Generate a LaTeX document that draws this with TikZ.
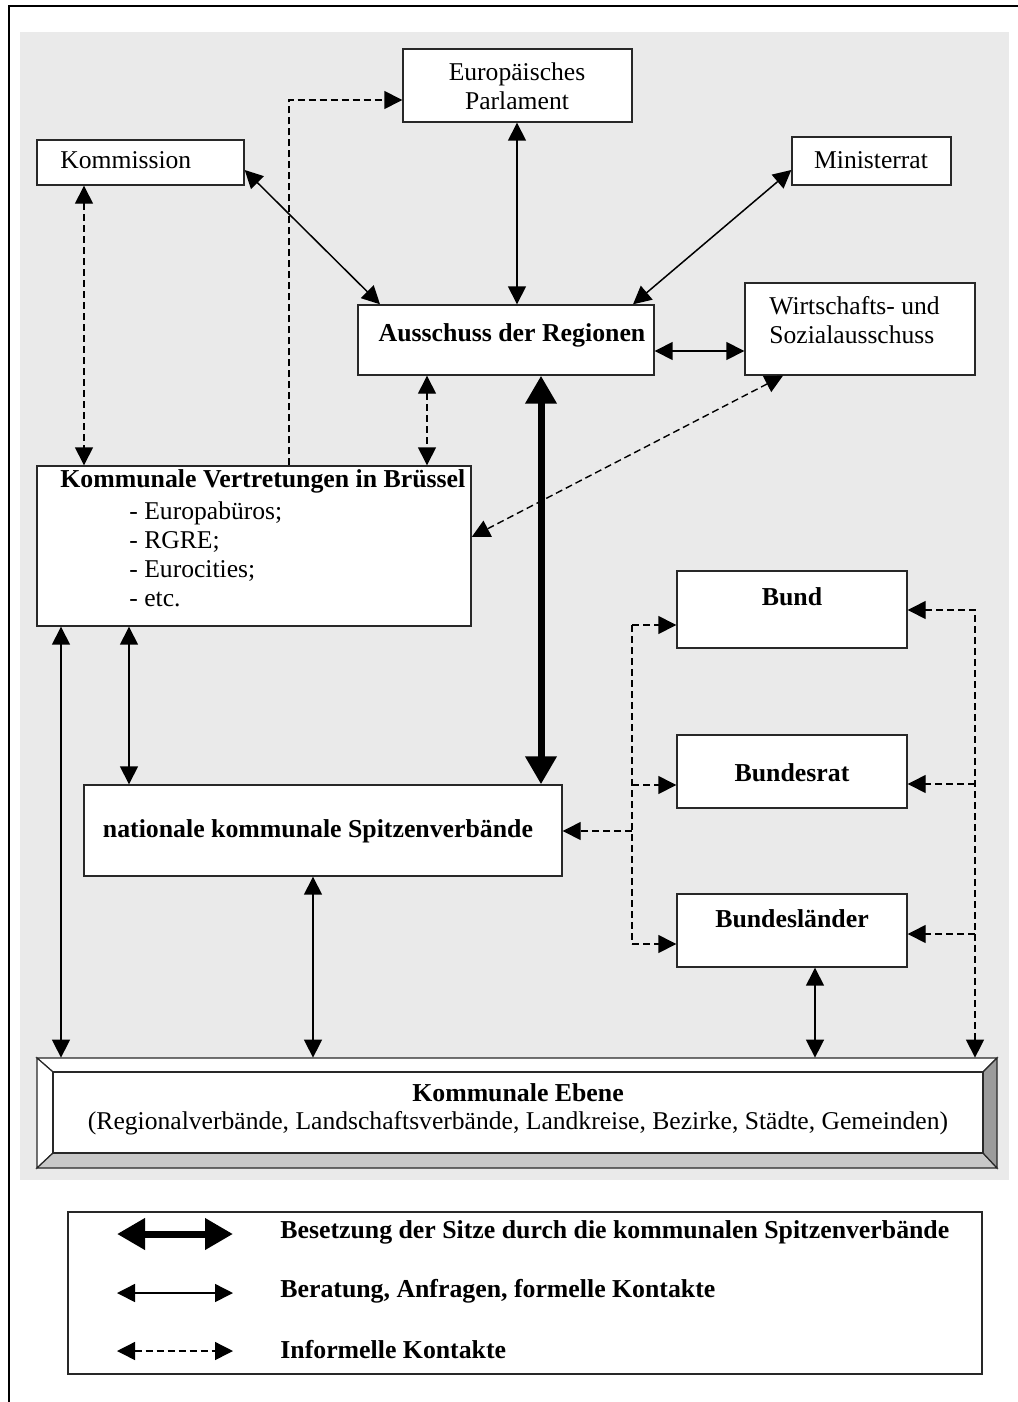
\documentclass[tikz,border=0pt]{standalone}
\usepackage{fontspec}
\setmainfont{Liberation Serif}
\usetikzlibrary{arrows.meta,calc}
\definecolor{bggrey}{RGB}{234,234,234}
\definecolor{bevlow}{RGB}{200,200,200}
\definecolor{bevright}{RGB}{155,155,155}
\definecolor{edge}{RGB}{40,40,40}
\begin{document}
\begin{tikzpicture}[x=0.5pt,y=-0.5pt,
  Tsm/.tip={Triangle[length=9pt,width=9pt]},
  Tbg/.tip={Triangle[length=14pt,width=15pt]},
  box/.style={draw=edge,line width=0.7pt,fill=white,inner sep=0pt},
  txt/.style={inner sep=0pt,font=\fontsize{12.8}{14.5}\selectfont},
  btxt/.style={inner sep=0pt,font=\fontsize{12.9}{14.5}\selectfont\bfseries},
  formal/.style={line width=0.75pt,Tsm-Tsm},
  informal/.style={line width=0.7pt,dash pattern=on 3.5pt off 2pt,Tsm-Tsm},
  informalone/.style={line width=0.7pt,dash pattern=on 3.5pt off 2pt,-Tsm},
  seat/.style={line width=3.5pt,Tbg-Tbg}]
\useasboundingbox (0,0) rectangle (1017,1402);
% outer frame and background
\draw[line width=0.8pt] (9,1410) -- (9,6) -- (1025,6);
\fill[bggrey] (20,32) rectangle (1009,1180);

% boxes
\node[box,minimum width=114.5pt,minimum height=36.5pt] (ep) at (517.5,85.5) {};
\node[box,minimum width=103.5pt,minimum height=22.5pt] (kom) at (140.5,162.5) {};
\node[box,minimum width=79.5pt,minimum height=24pt] (min) at (871.5,161) {};
\node[box,minimum width=148pt,minimum height=35pt] (adr) at (506,340) {};
\node[box,minimum width=115pt,minimum height=46pt] (wsa) at (860,329) {};
\node[box,minimum width=217pt,minimum height=80pt] (kvb) at (254,546) {};
\node[box,minimum width=239pt,minimum height=45.5pt] (nks) at (323,830.5) {};
\node[box,minimum width=115pt,minimum height=38.5pt] (bund) at (792,609.5) {};
\node[box,minimum width=115pt,minimum height=36.5pt] (brat) at (792,771.5) {};
\node[box,minimum width=115pt,minimum height=36.5pt] (bl) at (792,930.5) {};

% bevelled box Kommunale Ebene
\node[inner sep=0pt,minimum width=480pt,minimum height=55pt] (ke) at (517,1113) {};
\begin{scope}[draw=edge,line width=0.6pt]
\filldraw[fill=white] (37,1058) -- (997,1058) -- (983,1072) -- (53,1072) -- cycle;
\filldraw[fill=white] (37,1058) -- (53,1072) -- (53,1153) -- (37,1168) -- cycle;
\filldraw[fill=bevlow] (37,1168) -- (53,1153) -- (983,1153) -- (997,1168) -- cycle;
\filldraw[fill=bevright] (997,1058) -- (997,1168) -- (983,1153) -- (983,1072) -- cycle;
\filldraw[fill=white] (53,1072) rectangle (983,1153);
\end{scope}

% texts
\node[txt,align=center] (ep-t) at (517,86) {Europäisches\\Parlament};
\node[txt,anchor=west] (kom-t) at (60,160) {Kommission};
\node[txt] (min-t) at (871,160) {Ministerrat};
\node[btxt] (adr-t) at (512,335) {Ausschuss der Regionen};
\node[txt,align=left,anchor=west] (wsa-t) at (769,320) {Wirtschafts- und\\Sozialausschuss};
\node[btxt,anchor=west] (kvb-t) at (60,481) {Kommunale Vertretungen in Brüssel};
\node[txt,align=left,anchor=west] (kvb-l) at (129,554) {- Europabüros;\\- RGRE;\\- Eurocities;\\- etc.};
\node[btxt] (nks-t) at (318,831) {nationale kommunale Spitzenverbände};
\node[btxt] (bund-t) at (792,597) {Bund};
\node[btxt] (brat-t) at (792,773) {Bundesrat};
\node[btxt] (bl-t) at (792,919) {Bundesländer};
\node[btxt] (ke-t1) at (518,1093) {Kommunale Ebene};
\node[txt] (ke-t2) at (518,1123) {(Regionalverbände, Landschaftsverbände, Landkreise, Bezirke, Städte, Gemeinden)};

% formal connectors
\draw[formal] (kom.east |- 0,170) -- (adr.north -| 380,0);
\draw[formal] (ep.south -| 517,0) -- (adr.north -| 517,0);
\draw[formal] (min.west |- 0,170) -- (adr.north -| 633,0);
\draw[formal] (adr.east |- 0,351) -- (wsa.west |- 0,351);
\draw[formal] (kvb.south -| 61,0) -- (ke.north -| 61,0);
\draw[formal] (kvb.south -| 129,0) -- (nks.north -| 129,0);
\draw[formal] (nks.south -| 313,0) -- (ke.north -| 313,0);
\draw[formal] (bl.south -| 815,0) -- (ke.north -| 815,0);
% seat connector
\draw[seat] (adr.south -| 541,0) -- (nks.north -| 541,0);

% informal connectors
\draw[informal] (kom.south -| 84,0) -- (kvb.north -| 84,0);
\draw[informalone] (kvb.north -| 289,0) |- (ep.west |- 0,100);
\draw[informal] (adr.south -| 427,0) -- (kvb.north -| 427,0);
\draw[informal] (wsa.south -| 783,0) -- (kvb.east |- 0,537);

% right dashed bus
\coordinate (r1) at (975,610);
\draw[informal] (bund.east |- r1) -- (r1) -- (ke.north -| r1);
\draw[informalone] (r1 |- 0,784) -- (brat.east |- 0,784);
\draw[informalone] (r1 |- 0,934) -- (bl.east |- 0,934);
% left dashed bus
\coordinate (l1) at (632,625);
\coordinate (l2) at (632,944);
\draw[line width=0.7pt,dash pattern=on 3.5pt off 2pt] (l1) -- (l2);
\draw[informalone] (l1) -- (bund.west |- l1);
\draw[informalone] (l1 |- 0,785) -- (brat.west |- 0,785);
\draw[informalone] (l2) -- (bl.west |- l2);
\draw[informalone] (l1 |- 0,831) -- (nks.east |- 0,831);

% legend
\node[draw=edge,line width=1pt,inner sep=0pt,minimum width=457pt,minimum height=81pt] (leg) at (525,1293) {};
\coordinate (a1) at (117,1234); \coordinate (b1) at (233,1234);
\coordinate (a2) at (117,1293); \coordinate (b2) at (233,1293);
\coordinate (a3) at (117,1351); \coordinate (b3) at (233,1351);
\draw[seat] (a1) -- (b1);
\draw[formal] (a2) -- (b2);
\draw[informal] (a3) -- (b3);
\node[btxt,anchor=west] (l1-t) at (280,1232) {Besetzung der Sitze durch die kommunalen Spitzenverbände};
\node[btxt,anchor=west] (l2-t) at (280,1291) {Beratung, Anfragen, formelle Kontakte};
\node[btxt,anchor=west] (l3-t) at (280,1350) {Informelle Kontakte};
\end{tikzpicture}
\end{document}
